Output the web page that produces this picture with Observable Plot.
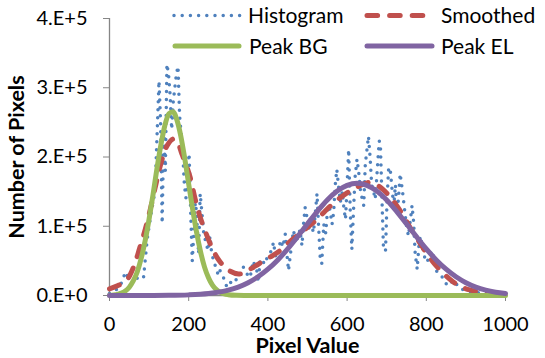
<!DOCTYPE html>
<html><head><meta charset="utf-8">
<script src="https://cdn.jsdelivr.net/npm/d3@7"></script>
<script src="https://cdn.jsdelivr.net/npm/@observablehq/plot@0.6"></script>
<style>body{margin:0;background:#fff;} #chart{width:545px;height:358px;}</style>
</head><body><div id="chart"></div>
<script>
// [pixel value, count in thousands]
const histogram = [[0,3],[8,5],[16,8],[24,12],[32,20],[40,34],[48,26],[56,33],[64,28],[72,24],[80,27],[86,26],[90,50],[95,80],[100,100],[105,118],[110,135],[115,150],[120,230],[125,310],[129,250],[133,104],[137,238],[141,180],[145,334],[149,320],[153,290],[157,240],[161,280],[165,300],[169,320],[173,331],[177,260],[181,233],[185,205],[189,160],[193,141],[197,175],[201,205],[205,120],[209,50],[213,90],[217,140],[221,105],[225,60],[229,147],[233,122],[238,90],[244,75],[249,65],[254,86],[258,60],[262,53],[267,43],[271,36],[275,29],[279,36],[285,28],[292,22],[296,12],[305,18],[314,25],[322,22],[330,35],[338,41],[346,32],[355,26],[363,50],[367,43],[372,36],[376,19],[380,50],[385,53],[391,45],[397,53],[403,60],[410,65],[414,77],[420,55],[427,65],[432,80],[438,70],[444,89],[448,60],[452,36],[456,55],[461,80],[465,94],[470,75],[476,85],[481,95],[486,72],[490,103],[494,127],[498,115],[503,95],[507,113],[511,100],[515,91],[520,120],[524,147],[528,100],[532,55],[536,46],[541,103],[546,90],[550,120],[555,130],[562,103],[566,120],[570,159],[574,182],[578,160],[583,135],[588,150],[592,125],[596,110],[600,160],[604,211],[608,120],[612,67],[616,120],[620,170],[625,197],[629,180],[634,150],[638,140],[642,130],[646,190],[650,210],[654,230],[658,200],[662,160],[667,150],[671,139],[676,180],[681,223],[684,220],[688,140],[692,65],[697,65],[701,140],[705,185],[709,182],[714,150],[718,130],[722,160],[726,118],[730,142],[734,176],[740,150],[746,120],[750,100],[755,86],[760,110],[764,130],[768,106],[772,60],[777,38],[781,70],[785,86],[790,70],[796,55],[802,48],[808,58],[815,65],[821,45],[827,34],[835,30],[843,25],[853,14],[861,18],[869,22],[878,15],[886,10],[895,8],[903,7],[915,5],[930,4],[950,3],[970,2],[985,1.5],[1000,1]];

const smoothed = [[0,9.6],[20,14],[43,22],[60,40],[77,70],[90,95],[102,122],[117,160],[132,195],[147,218],[161,226],[172,221],[183,204],[194,188],[204,170],[216,140],[229,113],[245,88],[262,65],[275,52],[288,43],[305,35],[326,31],[340,33],[355,38],[370,43],[389,50],[410,57],[431,65],[452,76],[473,86],[497,97],[520,108],[543,121],[565,133],[587,143],[608,151],[630,158],[652,163],[663,163],[680,158],[695,151],[709,142],[725,130],[742,115],[756,101],[770,88],[786,74],[802,60],[822,45],[843,32],[865,21],[886,13],[910,8],[937,5],[968,3],[1000,2]];

const peakBG = [[0,0.3],[10,0.8],[20,1.7],[30,3.4],[40,6.6],[50,12],[60,21],[70,34],[80,53.5],[90,79],[100,110.5],[110,146],[120,184],[130,218],[140,246],[150,262.5],[160,265.4],[170,254],[180,230.5],[190,198],[200,161],[210,124.5],[220,91],[230,63],[240,41],[250,25.6],[260,15],[270,8.4],[280,4.5],[290,2.2],[300,1.1],[320,0.2],[340,0],[400,0],[500,0],[600,0],[700,0],[800,0],[900,0],[1000,0]];

const peakEL = [[0,0],[50,0],[100,0.1],[150,0.25],[200,0.9],[250,2.9],[300,7.8],[325,12.2],[350,18.5],[375,27],[400,38],[425,51.4],[450,67.3],[475,85],[500,103.5],[525,121.6],[550,138],[575,150.8],[600,159],[625,162],[650,159],[675,150.8],[700,138],[725,121.6],[750,103.5],[775,85],[800,67.3],[825,51.4],[850,38],[875,27],[900,18.5],[925,12.2],[950,7.8],[975,4.8],[1000,2.9]];

const xTicks = [0,200,400,600,800,1000];
const yTicks = [0,100000,200000,300000,400000];
const yTickLabels = ["0.E+0","1.E+5","2.E+5","3.E+5","4.E+5"];
const seriesNames = ["Histogram","Smoothed","Peak BG","Peak EL"];
const seriesColors = ["#4F81BD","#C0504D","#9BBB59","#8064A2"];
const xTitle = "Pixel Value";
const yTitle = "Number of Pixels";

const rows = (arr) => arr.map(([x,k]) => ({x, y: k * 1000}));
const gray = "#868686";
const font = "Lato, 'Open Sans', sans-serif";

const chart = Plot.plot({
  width: 545, height: 358,
  marginLeft: 109, marginRight: 40, marginTop: 18, marginBottom: 63,
  x: {domain: [0, 1000]},
  y: {domain: [0, 400000]},
  style: {fontFamily: font, fontSize: "20px", color: "#000", background: "#fff"},
  marks: [
    Plot.ruleX([0], {stroke: gray, strokeWidth: 1.3}),
    Plot.ruleY([0], {stroke: gray, strokeWidth: 1.3}),
    Plot.axisY({ticks: yTicks, tickFormat: d => yTickLabels[yTicks.indexOf(d)], tickSize: 6, tickPadding: 16, stroke: gray, fill: "#000", label: null, fontSize: 20}),
    Plot.axisX({ticks: xTicks, tickFormat: d => String(d), tickSize: 6, tickPadding: 15, stroke: gray, fill: "#000", label: null, fontSize: 20}),
    Plot.line(rows(histogram), {x: "x", y: "y", stroke: seriesColors[0], strokeWidth: 3.5, strokeDasharray: "0 8", strokeLinecap: "round", strokeLinejoin: "round"}),
    Plot.line(rows(smoothed), {x: "x", y: "y", stroke: seriesColors[1], strokeWidth: 5, strokeDasharray: "10.6 12", strokeLinecap: "round", curve: "catmull-rom"}),
    Plot.line(rows(peakBG), {x: "x", y: "y", stroke: seriesColors[2], strokeWidth: 5, curve: "monotone-x"}),
    Plot.line(rows(peakEL), {x: "x", y: "y", stroke: seriesColors[3], strokeWidth: 5, curve: "monotone-x"}),
    Plot.text([yTitle], {text: d => d, frameAnchor: "left", dx: -92, rotate: -90, textAnchor: "middle", lineAnchor: "middle", fontWeight: "bold", fontSize: 21.5, fill: "#000"}),
    Plot.text([xTitle], {text: d => d, frameAnchor: "bottom", dy: 51, textAnchor: "middle", lineAnchor: "middle", fontWeight: "bold", fontSize: 21.5, fill: "#000"})
  ]
});

// Legend
const svg = d3.select(chart);
const lg = svg.append("g").attr("font-family", font).attr("font-size", 21).attr("fill", "#000").attr("text-anchor", "start");
const legendItems = [
  {i: 0, x1: 174, x2: 240, y: 15.5, tx: 248, ty: 22.6, w: 3.5, dash: "0 8.2"},
  {i: 1, x1: 367, x2: 431, y: 15.5, tx: 441, ty: 22.6, w: 5, dash: "10.6 12"},
  {i: 2, x1: 175, x2: 239, y: 46, tx: 249, ty: 53.8, w: 5, dash: null},
  {i: 3, x1: 367, x2: 432, y: 46, tx: 441, ty: 53.8, w: 5, dash: null}
];
for (const it of legendItems) {
  const l = lg.append("line").attr("x1", it.x1).attr("x2", it.x2).attr("y1", it.y).attr("y2", it.y)
    .attr("stroke", seriesColors[it.i]).attr("stroke-width", it.w).attr("stroke-linecap", "round");
  if (it.dash) l.attr("stroke-dasharray", it.dash);
  lg.append("text").attr("x", it.tx).attr("y", it.ty).attr("text-anchor", "start").text(seriesNames[it.i]);
}

document.getElementById("chart").appendChild(chart);
</script>
</body></html>
